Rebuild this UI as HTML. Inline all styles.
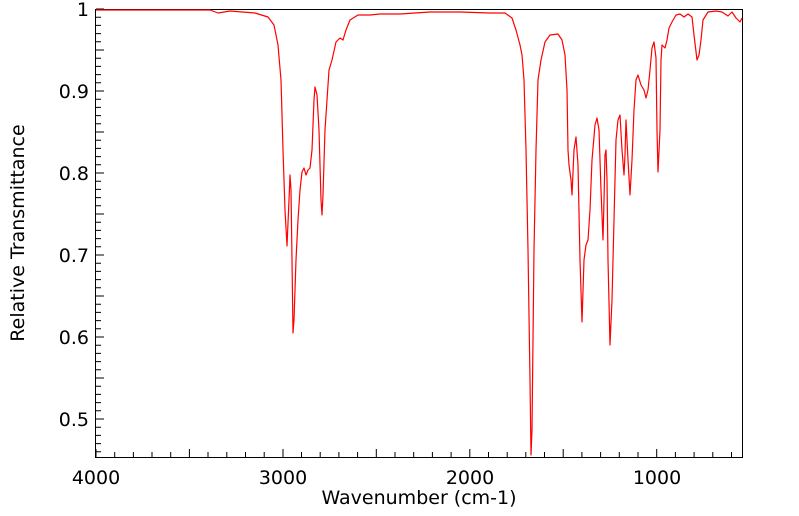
<!DOCTYPE html>
<html><head><style>body{margin:0;background:#fff}svg{display:block}</style></head><body>
<svg width="799" height="516" xmlns="http://www.w3.org/2000/svg" font-family="DejaVu Sans, Liberation Sans, sans-serif">
<rect x="0" y="0" width="799" height="516" fill="#fff"/>
<g stroke="#000" stroke-width="1" fill="none">
<rect x="95.5" y="9.5" width="647" height="448"/>
<path d="M96,457v-8M114.7,457v-5M133.4,457v-5M152,457v-5M170.7,457v-5M189.4,457v-8M208,457v-5M226.8,457v-5M245.5,457v-5M264.2,457v-5M283,457v-8M301.5,457v-5M320.2,457v-5M338.9,457v-5M357.6,457v-5M376.3,457v-8M395,457v-5M413.7,457v-5M432.4,457v-5M451.1,457v-5M469.8,457v-8M488.5,457v-5M507.2,457v-5M525.8,457v-5M544.5,457v-5M563.2,457v-8M581.9,457v-5M600.6,457v-5M619.3,457v-5M638,457v-5M656.7,457v-8M675.4,457v-5M694.1,457v-5M712.8,457v-5M731.5,457v-5"/>
<path d="M96,9h8M96,17.2h5M96,25.4h5M96,33.6h5M96,41.8h5M96,50h8M96,58.2h5M96,66.4h5M96,74.6h5M96,82.8h5M96,91h8M96,99.2h5M96,107.4h5M96,115.6h5M96,123.8h5M96,132h8M96,140.2h5M96,148.4h5M96,156.6h5M96,164.8h5M96,173h8M96,181.2h5M96,189.4h5M96,197.6h5M96,205.8h5M96,214h8M96,222.2h5M96,230.4h5M96,238.6h5M96,246.8h5M96,255h8M96,263.2h5M96,271.4h5M96,279.6h5M96,287.8h5M96,296h8M96,304.2h5M96,312.4h5M96,320.6h5M96,328.8h5M96,337h8M96,345.2h5M96,353.4h5M96,361.6h5M96,369.8h5M96,378h8M96,386.2h5M96,394.4h5M96,402.6h5M96,410.8h5M96,419h8M96,427.2h5M96,435.4h5M96,443.6h5M96,451.8h5"/>
</g>
<g font-size="19" fill="#000" text-anchor="end">
<text x="89" y="16">1</text><text x="89" y="98">0.9</text><text x="89" y="180">0.8</text><text x="89" y="262">0.7</text><text x="89" y="344">0.6</text><text x="89" y="426">0.5</text>
</g>
<g font-size="19" fill="#000" text-anchor="middle">
<text x="96" y="484">4000</text><text x="283" y="484">3000</text><text x="470" y="484">2000</text><text x="657" y="484">1000</text>
<text x="419" y="504">Wavenumber (cm-1)</text>
<text transform="translate(24,233) rotate(-90)">Relative Transmittance</text>
</g>
<polyline fill="none" stroke="#f00" stroke-width="1.2" stroke-linejoin="round" points="96,10 210,10 218,13 224,12 230,11 255,13 268,17 274,25 278,45 281,80 283,150 285,210 287,246 289,200 290,175 291,190 292,260 293,333 294,320 296,260 298,220 300,190 302,172 304,168 306,175 308,170 310,168 312,150 314,100 315,87 317,95 319,130 321,200 322,215 323,195 325,130 327,100 329,70 332,60 336,42 340,38 343,40 346,30 350,20 358,15 370,15 380,14 400,14 430,12 460,12 490,13 505,13 512,18 516,30 520,45 522,55 524,80 526,150 528,250 530,380 531,455 532,430 534,250 536,150 538,80 541,60 545,42 550,35 558,34 562,40 565,55 567,90 568,150 569,165 571,180 572,195 574,150 576,137 578,165 580,260 582,322 584,260 586,245 588,240 590,210 592,160 595,125 597,118 599,130 601,190 603,240 604,200 605,155 606,150 607,180 608,260 610,345 612,300 614,220 616,140 618,120 620,115 622,150 624,175 625,155 626,120 628,160 630,195 632,160 634,110 636,80 638,75 641,85 644,90 646,98 648,90 650,70 652,48 654,42 656,58 657,130 658,172 660,130 661,60 662,45 665,48 667,40 669,28 672,22 676,15 680,14 684,17 688,14 692,17 694,35 697,60 699,55 701,40 703,20 708,12 716,11 722,12 728,16 732,12 736,18 740,22 742,18"/>
</svg>
</body></html>
